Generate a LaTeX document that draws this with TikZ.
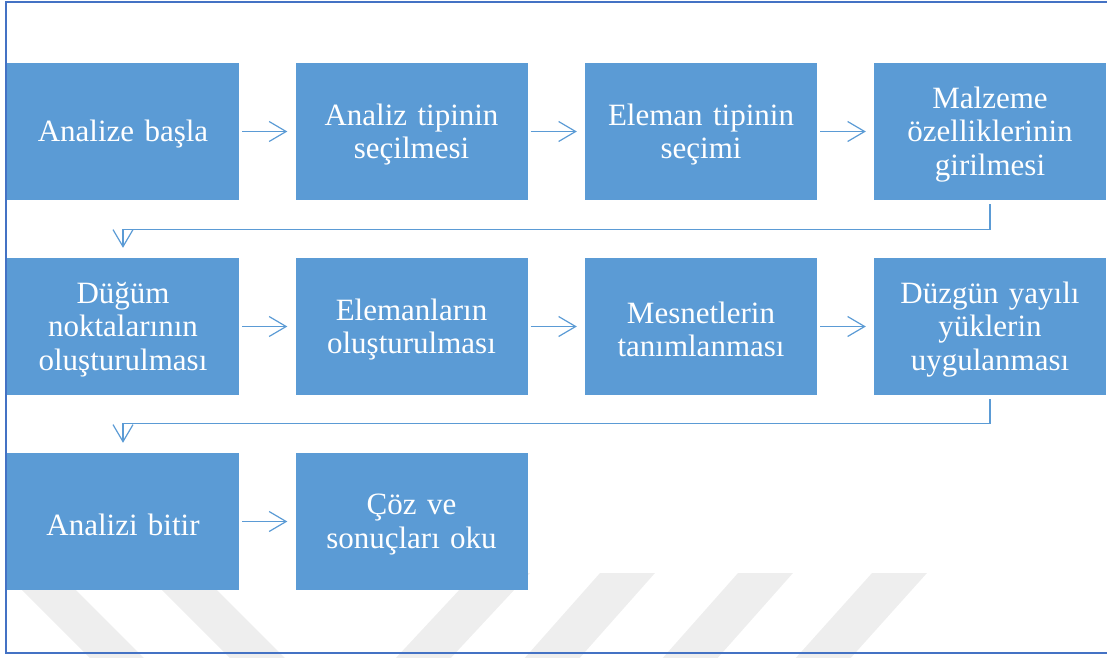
\documentclass[tikz,border=0pt]{standalone}
\usepackage{fontspec}
\setmainfont{Liberation Serif}
\usetikzlibrary{arrows.meta}
\definecolor{boxblue}{RGB}{91,155,213}
\definecolor{framblue}{RGB}{68,114,196}
\definecolor{wmgray}{RGB}{238,238,238}
\begin{document}
\begin{tikzpicture}[x=1pt,y=-1pt,
  flowbox/.style={fill=boxblue, draw=none, minimum width=232pt, minimum height=137pt, inner sep=0pt},
  flowtext/.style={text width=226pt, align=center, text=white, inner sep=0pt,
    font=\fontsize{31}{33.5}\selectfont, yshift=-3pt},
  flowarrow/.style={draw=boxblue, line width=1.2pt,
    -{Straight Barb[length=17pt,width=20pt,line width=1.2pt]}},
  stripe/.style={fill=wmgray, draw=none}]
\useasboundingbox (0,0) rectangle (1107,657);
% watermark stripes
\fill[stripe] (5,573) -- (59,573) -- (147,661) -- (93,661) -- cycle;
\fill[stripe] (145,573) -- (200,573) -- (288,661) -- (233,661) -- cycle;
\fill[stripe] (475,573) -- (530,573) -- (448,661) -- (393,661) -- cycle;
\fill[stripe] (600,573) -- (655,573) -- (577,661) -- (522,661) -- cycle;
\fill[stripe] (738,573) -- (793,573) -- (715,661) -- (660,661) -- cycle;
\fill[stripe] (872,573) -- (927,573) -- (848,661) -- (793,661) -- cycle;
% boxes
\node[flowbox] (b1) at (123,131.5) {};
\node[flowbox] (b2) at (411.5,131.5) {};
\node[flowbox] (b3) at (701,131.5) {};
\node[flowbox] (b4) at (990,131.5) {};
\node[flowbox] (b5) at (123,326.5) {};
\node[flowbox] (b6) at (411.5,326.5) {};
\node[flowbox] (b7) at (701,326.5) {};
\node[flowbox] (b8) at (990,326.5) {};
\node[flowbox] (b9) at (123,521.5) {};
\node[flowbox] (b10) at (411.5,521.5) {};
% texts
\node[flowtext] (t1) at (b1) {Analize başla};
\node[flowtext] (t2) at (b2) {Analiz tipinin\\seçilmesi};
\node[flowtext] (t3) at (b3) {Eleman tipinin\\seçimi};
\node[flowtext] (t4) at (b4) {Malzeme\\özelliklerinin\\girilmesi};
\node[flowtext] (t5) at (b5) {Düğüm\\noktalarının\\oluşturulması};
\node[flowtext] (t6) at (b6) {Elemanların\\oluşturulması};
\node[flowtext] (t7) at (b7) {Mesnetlerin\\tanımlanması};
\node[flowtext] (t8) at (b8) {Düzgün yayılı\\yüklerin\\uygulanması};
\node[flowtext] (t9) at (b9) {Analizi bitir};
\node[flowtext] (t10) at (b10) {Çöz ve\\sonuçları oku};
% horizontal arrows
\foreach \a/\b in {b1/b2,b2/b3,b3/b4,b5/b6,b6/b7,b7/b8,b9/b10}{
  \draw[flowarrow, shorten <=3pt, shorten >=8pt] (\a.east) -- (\b.west);
}
% row-change connectors
\draw[flowarrow, shorten <=4pt, shorten >=10pt] (b4.south) -- ++(0,29) -| (b5.north);
\draw[flowarrow, shorten <=4pt, shorten >=10pt] (b8.south) -- ++(0,28.5) -| (b9.north);
% frame
\draw[framblue, line width=2pt] (6,1.5) rectangle (1110,653);
\end{tikzpicture}
\end{document}
